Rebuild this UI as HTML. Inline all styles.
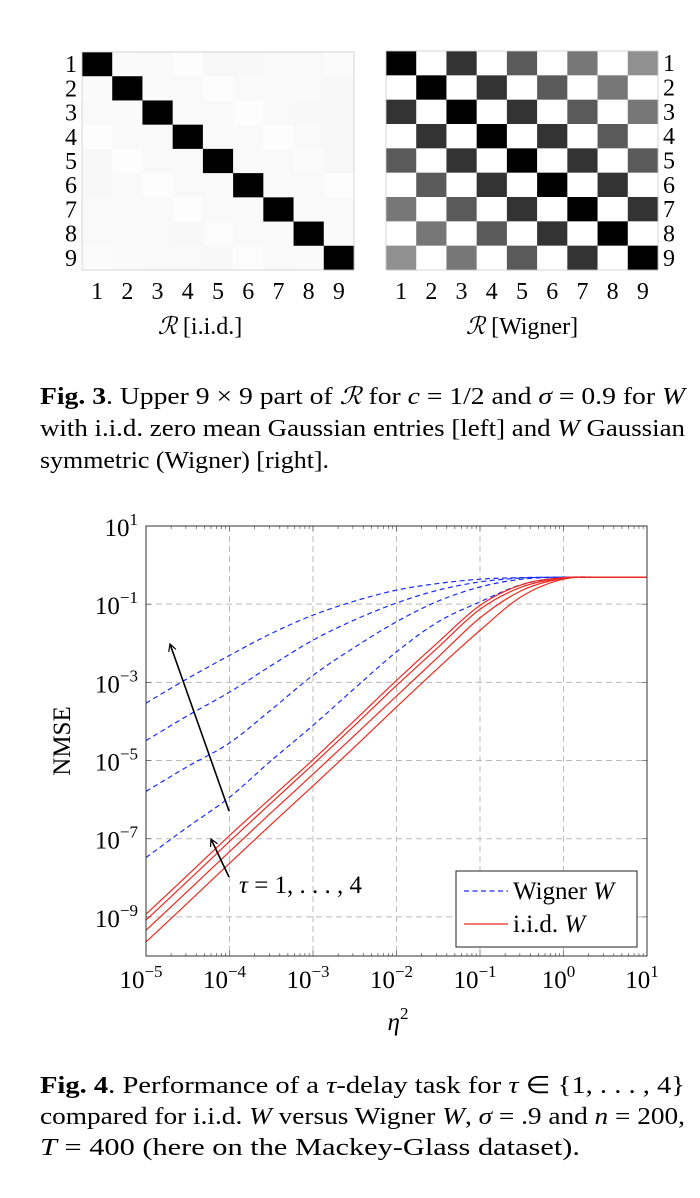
<!DOCTYPE html>
<html><head><meta charset="utf-8"><style>
html,body{margin:0;padding:0;background:#fff;}
svg{display:block;font-family:"Liberation Serif",serif;}
</style></head><body>
<svg id="s" width="700" height="1198" viewBox="0 0 700 1198" xmlns="http://www.w3.org/2000/svg">
<g id="hm"></g>
<g id="ch"></g>
<text x="200" y="334" font-size="24" text-anchor="middle"><tspan font-style="italic">ℛ</tspan> [i.i.d.]</text>
<text x="522" y="334" font-size="24" text-anchor="middle"><tspan font-style="italic">ℛ</tspan> [Wigner]</text>
<g font-size="24">
<text x="40" y="404" textLength="645" lengthAdjust="spacingAndGlyphs"><tspan font-weight="bold">Fig. 3</tspan>. Upper 9 × 9 part of <tspan font-style="italic">ℛ</tspan> for <tspan font-style="italic">c</tspan> = 1/2 and <tspan font-style="italic">σ</tspan> = 0.9 for <tspan font-style="italic">W</tspan></text>
<text x="40" y="436" textLength="645" lengthAdjust="spacingAndGlyphs">with i.i.d. zero mean Gaussian entries [left] and <tspan font-style="italic">W</tspan> Gaussian</text>
<text x="40" y="468" textLength="289" lengthAdjust="spacingAndGlyphs">symmetric (Wigner) [right].</text>
</g>
<g font-size="24">
<text x="40" y="1093" textLength="645" lengthAdjust="spacingAndGlyphs"><tspan font-weight="bold">Fig. 4</tspan>.  Performance of a <tspan font-style="italic">τ</tspan>-delay task for <tspan font-style="italic">τ</tspan> ∈ {1, . . . , 4}</text>
<text x="40" y="1124" textLength="645" lengthAdjust="spacingAndGlyphs">compared for i.i.d. <tspan font-style="italic">W</tspan> versus Wigner <tspan font-style="italic">W</tspan>, <tspan font-style="italic">σ</tspan> = .9 and <tspan font-style="italic">n</tspan> = 200,</text>
<text x="40" y="1155" textLength="540" lengthAdjust="spacingAndGlyphs"><tspan font-style="italic">T</tspan> = 400 (here on the Mackey-Glass dataset).</text>
</g>
</svg>
<script>
const NS="http://www.w3.org/2000/svg";
// heatmap data (gray levels 0-255)
const iidOff=[[0,250,249,253,248,248,249,249,251],[250,0,250,249,253,249,249,249,248],[249,250,0,249,249,253,249,248,248],[253,249,249,0,249,249,253,249,248],[248,253,249,249,0,249,249,251,248],[248,249,253,249,249,0,249,249,252],[249,249,249,253,249,249,0,250,250],[249,249,249,248,252,249,250,0,250],[251,250,249,249,248,252,249,250,0]];
const wignerLevels=[0,255,51,255,90,255,119,255,144];
// chart data: log10 values at log10(eta^2) positions
const xLog=[-5,-4.5,-4,-3.5,-3,-2.5,-2,-1.5,-1,-0.5,0,0.5,1];
const wigner1=[-3.53,-2.9,-2.31,-1.75,-1.28,-0.92,-0.64,-0.47,-0.36,-0.32,-0.31,-0.31,-0.31];
const wigner2=[-4.49,-3.85,-3.25,-2.57,-1.92,-1.4,-0.97,-0.64,-0.43,-0.33,-0.31,-0.31,-0.31];
const wigner3=[-5.79,-5.15,-4.55,-3.7,-2.82,-2.1,-1.45,-0.92,-0.56,-0.36,-0.31,-0.31,-0.31];
const wigner4=[-7.48,-6.7,-5.94,-5.0,-4.1,-3.15,-2.22,-1.45,-0.94,-0.5,-0.32,-0.31,-0.31];
const iid1=[-8.93,-7.93,-6.92,-5.95,-4.98,-3.97,-2.95,-1.97,-1.03,-0.5,-0.32,-0.31,-0.31];
const iid2=[-9.08,-8.08,-7.07,-6.08,-5.1,-4.1,-3.08,-2.1,-1.13,-0.56,-0.33,-0.31,-0.31];
const iid3=[-9.34,-8.34,-7.33,-6.33,-5.35,-4.35,-3.35,-2.35,-1.35,-0.65,-0.34,-0.31,-0.31];
const iid4=[-9.64,-8.64,-7.63,-6.63,-5.65,-4.65,-3.63,-2.63,-1.67,-0.8,-0.36,-0.31,-0.31];
const xTickExp=[-5,-4,-3,-2,-1,0,1];
const yTickExp=[1,-1,-3,-5,-7,-9];

function mk(t,a,p){const e=document.createElementNS(NS,t);for(const k in a)e.setAttribute(k,a[k]);(p||document.getElementById('s')).appendChild(e);return e;}

const hm=document.getElementById('hm');
function heat(x0,y0,w,h,getv,name,labelSide){
  const g=mk('g',{},hm);
  
  
  const cw=w/9,chh=h/9;
  for(let i=0;i<9;i++)for(let j=0;j<9;j++){
    const v=getv(i,j);
    const r=mk('rect',{x:x0+j*cw,y:y0+i*chh,width:cw+0.3,height:chh+0.3,fill:`rgb(${v},${v},${v})`},g);
    
    
  }
  mk('rect',{x:x0,y:y0,width:w,height:h,fill:'none',stroke:'#ccc','stroke-width':0.8},g);
  for(let i=0;i<9;i++){
    const t=mk('text',{x:labelSide==='left'?x0-5:x0+w+5,y:y0+(i+0.5)*chh+8,'font-size':24,'text-anchor':labelSide==='left'?'end':'start'},g);
    t.textContent=i+1;
    
    
    const c=mk('text',{x:x0+(i+0.5)*cw,y:y0+h+29,'font-size':24,'text-anchor':'middle'},g);
    c.textContent=i+1;
    
    
  }
}
heat(82,52,272,218,(i,j)=>iidOff[i][j],'iid-heatmap','left');
heat(386,51,272,219,(i,j)=>wignerLevels[Math.abs(i-j)],'wigner-heatmap','right');

const ch=document.getElementById('ch');
const L=146,R=647,T=526,B=956;
const xs=v=>L+(v+5)/6*(R-L);
const ys=v=>T+(1-v)/11*(B-T);
for(const e of xTickExp.slice(1,-1)){const l=mk('line',{x1:xs(e),x2:xs(e),y1:T,y2:B,stroke:'#bbb','stroke-dasharray':'6,4','stroke-width':1},ch);}
for(const e of yTickExp.slice(1)){const l=mk('line',{x1:L,x2:R,y1:ys(e),y2:ys(e),stroke:'#bbb','stroke-dasharray':'6,4','stroke-width':1},ch);}
for(let d=-5;d<1;d++)for(let k=1;k<10;k++){
  const x=xs(d+Math.log10(k));const len=k===1?5:3;
  mk('line',{x1:x,x2:x,y1:T,y2:T+len,stroke:'#555','stroke-width':0.7},ch);
  mk('line',{x1:x,x2:x,y1:B,y2:B-len,stroke:'#555','stroke-width':0.7},ch);
}
for(const e of yTickExp){mk('line',{x1:L,x2:L+5,y1:ys(e),y2:ys(e),stroke:'#555','stroke-width':0.7},ch);mk('line',{x1:R,x2:R-5,y1:ys(e),y2:ys(e),stroke:'#555','stroke-width':0.7},ch);}
function pathD(ys_){
  const p=xLog.map((x,i)=>[xs(x),ys(ys_[i])]);
  let d=`M${p[0][0]},${p[0][1]}`;
  for(let i=0;i<p.length-1;i++){
    const p0=p[Math.max(0,i-1)],p1=p[i],p2=p[i+1],p3=p[Math.min(p.length-1,i+2)];
    const c1=[p1[0]+(p2[0]-p0[0])/6,p1[1]+(p2[1]-p0[1])/6];
    const c2=[p2[0]-(p3[0]-p1[0])/6,p2[1]-(p3[1]-p1[1])/6];
    d+=` C${c1[0]},${c1[1]} ${c2[0]},${c2[1]} ${p2[0]},${p2[1]}`;
  }
  return d;
}
[wigner1,wigner2,wigner3,wigner4].forEach((s,i)=>{const p=mk('path',{d:pathD(s),fill:'none',stroke:'#1a2cff','stroke-width':1.2,'stroke-dasharray':'5,3.5'},ch);});
[iid1,iid2,iid3,iid4].forEach((s,i)=>{const p=mk('path',{d:pathD(s),fill:'none',stroke:'#ee2a20','stroke-width':1.2},ch);});
const fr=mk('rect',{x:L,y:T,width:R-L,height:B-T,fill:'none',stroke:'#333','stroke-width':1},ch);

for(const e of xTickExp){const t=mk('text',{x:xs(e)-5,y:988,'font-size':25,'text-anchor':'middle'},ch);t.innerHTML=`10<tspan font-size="17" dy="-11">${e<0?'−'+(-e):e}</tspan>`;}
for(const e of yTickExp){const t=mk('text',{x:138,y:ys(e)+10,'font-size':25,'text-anchor':'end'},ch);t.innerHTML=`10<tspan font-size="17" dy="-11">${e<0?'−'+(-e):e}</tspan>`;}
const xt=mk('text',{x:398,y:1030,'font-size':25,'font-style':'italic','text-anchor':'middle'},ch);xt.innerHTML='η<tspan font-size="17" dy="-11" font-style="normal">2</tspan>';

const yt=mk('text',{x:0,y:0,'font-size':25,'text-anchor':'middle',transform:'translate(70,741) rotate(-90)'},ch);yt.textContent='NMSE';

function arrow(x1,y1,x2,y2,name){
  const g=mk('g',{},ch);
  mk('line',{x1,y1,x2,y2,stroke:'#000','stroke-width':1.6},g);
  const a=Math.atan2(y2-y1,x2-x1),l=8;
  mk('path',{d:`M${x2-l*Math.cos(a-0.5)},${y2-l*Math.sin(a-0.5)} L${x2},${y2} L${x2-l*Math.cos(a+0.5)},${y2-l*Math.sin(a+0.5)}`,fill:'none',stroke:'#000','stroke-width':1.2},g);
}
arrow(229,811,170,644,'wigner-tau-arrow');
arrow(229,877,211,839,'iid-tau-arrow');
const tl=mk('text',{x:239,y:893,'font-size':25},ch);tl.innerHTML='<tspan font-style="italic">τ</tspan> = 1, . . . , 4';

const lg=mk('g',{},ch);
mk('rect',{x:456,y:871,width:181,height:76,fill:'#fff',stroke:'#222','stroke-width':1},lg);
const le1=mk('g',{},lg);
mk('line',{x1:464,x2:508,y1:891,y2:891,stroke:'#1a2cff','stroke-width':1.2,'stroke-dasharray':'5,3.5'},le1);
const t1=mk('text',{x:513,y:899,'font-size':25},le1);t1.innerHTML='Wigner <tspan font-style="italic">W</tspan>';
const le2=mk('g',{},lg);
mk('line',{x1:464,x2:508,y1:924,y2:924,stroke:'#ee2a20','stroke-width':1.2},le2);
const t2=mk('text',{x:513,y:932,'font-size':25},le2);t2.innerHTML='i.i.d. <tspan font-style="italic">W</tspan>';
</script>
</body></html>
